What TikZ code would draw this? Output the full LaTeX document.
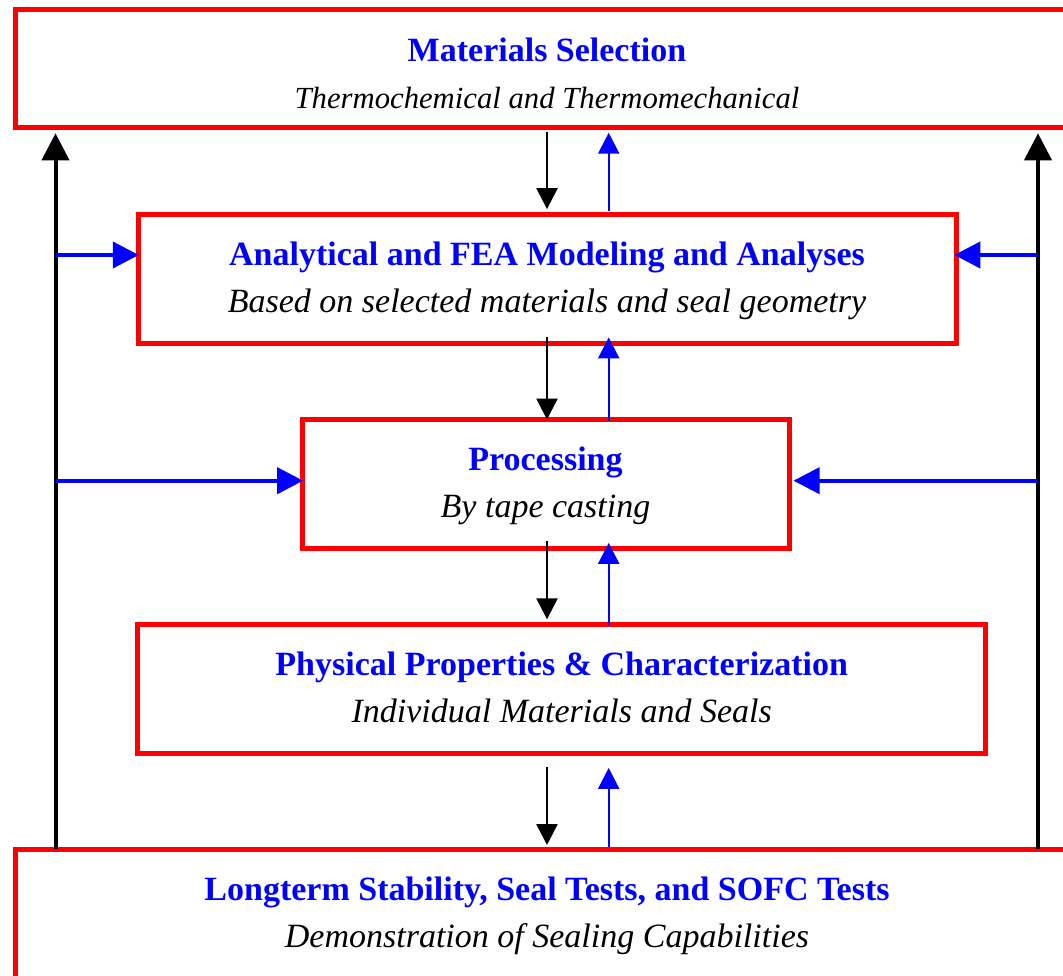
\documentclass[tikz,border=0pt]{standalone}
\usepackage{fontspec}
\setmainfont{Liberation Serif}
\usetikzlibrary{arrows.meta}

\newcommand{\ttl}[1]{\rule{0pt}{33pt}{\bfseries\color{blue}#1}}
\newcommand{\sub}[1]{{\itshape#1}\rule[-14pt]{0pt}{14pt}}

\tikzset{
  box/.style={draw=red,line width=5pt,rectangle,align=center,inner sep=0pt,outer sep=0pt,font=\fontsize{34}{47}\selectfont},
  bigup/.style={-{Triangle[width=27pt,length=27pt]},line width=4pt,black},
  feed/.style={-{Triangle[width=26pt,length=26pt]},line width=4pt,blue},
  down/.style={-{Triangle[width=21pt,length=21pt]},line width=2.5pt,black},
  up/.style={-{Triangle[width=21pt,length=21pt]},line width=2.3pt,blue}
}

\begin{document}
\begin{tikzpicture}[x=1pt,y=-1pt]
\useasboundingbox (0,0) rectangle (1063,976);

\node[box,minimum width=1064pt,minimum height=118pt] (sel) at (547,69) {\ttl{Materials Selection}\rule{0pt}{46pt}\\\sub{\fontsize{30.7}{47}\selectfont Thermochemical and Thermomechanical}};
\node[box,minimum width=818pt,minimum height=129pt] (ana) at (547,279.3) {\ttl{Analytical and FEA Modeling and Analyses}\\\sub{Based on selected materials and seal geometry}};
\node[box,minimum width=487pt,minimum height=129pt] (pro) at (545.5,484) {\ttl{Processing}\\\sub{By tape casting}};
\node[box,minimum width=848pt,minimum height=129pt] (phy) at (561.7,689) {\ttl{Physical Properties \& Characterization}\\\sub{Individual Materials and Seals}};
\node[box,minimum width=1064pt,minimum height=129pt] (bot) at (547,914) {\ttl{Longterm Stability, Seal Tests, and SOFC Tests}\\\sub{Demonstration of Sealing Capabilities}};

\coordinate (l) at (55.5,0);
\coordinate (r) at (1038,0);
\coordinate (dn) at (547,0);
\coordinate (upx) at (608.7,0);
\coordinate (la) at (55.5,255);
\coordinate (ra) at (1038,255);
\coordinate (lp) at (55.5,480.7);
\coordinate (rp) at (1038,480.7);

\draw[bigup,shorten <=1pt,shorten >=5.3pt] (bot.north -| l) to (sel.south -| l);
\draw[bigup,shorten <=1pt,shorten >=5.3pt] (bot.north -| r) to (sel.south -| r);

\draw[feed,shorten >=-0.8pt] (la) to (la -| ana.west);
\draw[feed,shorten >=-1.7pt] (ra) to (ra -| ana.east);
\draw[feed,shorten >=-1.2pt] (lp) to (lp -| pro.west);
\draw[feed,shorten >=4.5pt] (rp) to (rp -| pro.east);

\draw[down,shorten <=3.7pt,shorten >=5.7pt] (sel.south -| dn) to (ana.north -| dn);
\draw[down,shorten <=-7pt] (ana.south -| dn) to (pro.north -| dn);
\draw[down,shorten <=-7.3pt,shorten >=5.2pt] (pro.south -| dn) to (phy.north -| dn);
\draw[down,shorten <=13.4pt,shorten >=4.5pt] (phy.south -| dn) to (bot.north -| dn);

\draw[up,shorten <=3.3pt,shorten >=4.7pt] (ana.north -| upx) to (sel.south -| upx);
\draw[up,shorten <=-1.2pt,shorten >=-6.4pt] (pro.north -| upx) to (ana.south -| upx);
\draw[up,shorten >=-5.6pt] (phy.north -| upx) to (pro.south -| upx);
\draw[up,shorten <=2.8pt,shorten >=14.4pt] (bot.north -| upx) to (phy.south -| upx);

\end{tikzpicture}
\end{document}
